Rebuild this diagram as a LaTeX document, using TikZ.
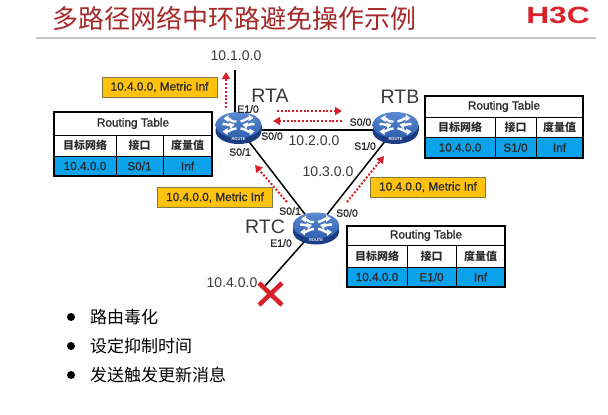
\documentclass[tikz,border=0pt]{standalone}
\usepackage{fontspec}
\setmainfont{Liberation Sans}
\newfontfamily\semi[FakeBold=1.2]{Liberation Sans}
\newfontfamily\cjk{Noto Sans CJK SC}
\usetikzlibrary{arrows.meta,calc,shapes.geometric}
\definecolor{titlered}{HTML}{A52A2A}
\definecolor{logored}{HTML}{D8232A}
\definecolor{rulegrey}{HTML}{C4C4C4}
\definecolor{ink}{HTML}{2B2B2B}
\definecolor{labelgrey}{HTML}{3A3A3A}
\definecolor{boxyellow}{HTML}{FFC20E}
\definecolor{boxedge}{HTML}{7F7A45}
\definecolor{cellblue}{HTML}{0BA3EC}
\definecolor{routertop}{HTML}{2F5FB0}
\definecolor{routerlight}{HTML}{5C8AD0}
\definecolor{routerside}{HTML}{1B3C82}
\definecolor{flowred}{HTML}{D9202A}
\newcommand{\fs}[1]{\fontsize{#1}{#1}\selectfont}
\tikzset{
  x=1pt,y=-1pt,
  link/.style={line width=1.5pt,draw=black},
  flow/.style={draw=flowred,line width=2pt,dash pattern=on 2pt off 1.8pt,
    -{Triangle[width=8pt,length=7pt,fill=flowred,sep=0pt]},shorten >=0pt},
  netlabel/.style={text=labelgrey,inner sep=0pt,font=\fs{14}},
  rtname/.style={text=labelgrey,inner sep=0pt,font=\fs{19.5}},
  portlabel/.style={text=ink,inner sep=0pt,font=\semi\fs{10.5}},
  metricbox/.style={fill=boxyellow,draw=boxedge,line width=1pt,text=ink,inner sep=0pt,
    minimum width=115pt,minimum height=20pt,font=\semi\fs{11.8}},
  routerspot/.style={shape=ellipse,minimum width=46pt,minimum height=32pt,inner sep=0pt},
  cell/.style={draw=black,line width=0.8pt,inner sep=0pt,text=ink},
  headcell/.style={cell,fill=white,font=\semi\fs{11.8}},
  colcell/.style={cell,fill=white,font=\cjk\bfseries\fs{11}},
  datacell/.style={cell,fill=cellblue,font=\semi\fs{11.8}},
  outerframe/.style={draw=black,line width=1.5pt},
  bulletdot/.style={circle,fill=black,inner sep=0pt,minimum size=8pt},
  bullettext/.style={anchor=west,inner sep=0pt,font=\cjk\fs{17},text=black},
  router/.pic={
    \fill[routerside] (0,3) ellipse[x radius=23,y radius=13];
    \fill[routerside] (-23,-3) rectangle (23,3);
    \shade[top color=routerlight,bottom color=routertop] (0,-3) ellipse[x radius=23,y radius=13];
    \begin{scope}[white,line width=2.4pt,-{Triangle[width=6.5pt,length=5pt]}]
      \draw (-2,-6.5) .. controls (-7,-5.5) and (-9,-9.5) .. (-15,-9.5);
      \draw (2,-6.5) .. controls (7,-7.5) and (9,-10) .. (15,-10);
      \draw (-2,0.5) .. controls (-7,0.5) and (-9,3.5) .. (-16,3.5);
      \draw (2,0.5) .. controls (7,0.5) and (9,4) .. (16,3.5);
      \draw (-16,-4) .. controls (-11,-4) and (-8,-2.5) .. (-4,-3.5);
      \draw (16,-4) .. controls (11,-4) and (8,-2.5) .. (4,-3.5);
    \end{scope}
    \node[text=white,inner sep=0pt,font=\bfseries\fs{4}] at (0,11.5) {ROUTE};
  }
}
% #1 name, #2 left, #3 top, #4 col1 right, #5 col2 right, #6 right, #7 row1 bottom, #8 row2 bottom, #9 bottom
\newcommand{\rtable}[9]{%
  \node[headcell,minimum width=#6-#2,minimum height=#7-#3] (#1title) at ({(#2+#6)/2},{(#3+#7)/2}) {Routing Table};
  \node[colcell,minimum width=#4-#2,minimum height=#8-#7] (#1c1) at ({(#2+#4)/2},{(#7+#8)/2}) {目标网络};
  \node[colcell,minimum width=#5-#4,minimum height=#8-#7] (#1c2) at ({(#4+#5)/2},{(#7+#8)/2}) {接口};
  \node[colcell,minimum width=#6-#5,minimum height=#8-#7] (#1c3) at ({(#5+#6)/2},{(#7+#8)/2}) {度量值};
  \node[datacell,minimum width=#4-#2,minimum height=#9-#8] (#1d1) at ({(#2+#4)/2},{(#8+#9)/2}) {10.4.0.0};
  \node[datacell,minimum width=#5-#4,minimum height=#9-#8] (#1d2) at ({(#4+#5)/2},{(#8+#9)/2}) {\rtableport};
  \node[datacell,minimum width=#6-#5,minimum height=#9-#8] (#1d3) at ({(#5+#6)/2},{(#8+#9)/2}) {Inf};
  \draw[outerframe] (#2,#3) rectangle (#6,#9);
}
\begin{document}
\begin{tikzpicture}
\useasboundingbox (0,0) rectangle (608,415);
\fill[white] (0,0) rectangle (608,415);

% header
\node[anchor=west,inner sep=0pt,text=titlered,font=\cjk\fs{26}] (title) at (52,18) {多路径网络中环路避免操作示例};
\node[inner sep=0pt,text=logored,font=\bfseries\fs{23.5},xscale=1.35] (logo) at (558,15.5) {H3C};
\coordinate (ruleL) at (36,37.5);
\coordinate (ruleR) at (596,37.5);
\draw[rulegrey,line width=2pt] (ruleL) -- (ruleR);

% routers (anchors)
\node[routerspot] (rta) at (238.5,128) {};
\node[routerspot] (rtb) at (395.5,128) {};
\node[routerspot] (rtc) at (316,228.5) {};

% free ends
\coordinate (net1) at (235,70);
\coordinate (net4) at (265,286);

% links
\draw[link] (net1) -- (235,115);
\draw[link] (rta.center) ++(0,2) -- ($(rtb.center)+(0,2)$);
\draw[link] (rta.center) -- (rtc.center);
\draw[link] (rtb.center) -- (rtc.center);
\draw[link] (rtc.center) -- (net4);

% routers
\pic at (rta) {router};
\pic at (rtb) {router};
\pic at (rtc) {router};

% red cross
\coordinate (xa) at (259,283);
\coordinate (xb) at (282,305);
\coordinate (xc) at (282,283);
\coordinate (xd) at (259,305);
\draw[flowred,line width=4.5pt] (xa) -- (xb) (xc) -- (xd);

% flows
\coordinate (f1a) at (226,108); \coordinate (f1b) at (226,72);
\coordinate (f2a) at (277,111); \coordinate (f2b) at (342,111);
\coordinate (f3a) at (342,121); \coordinate (f3b) at (273,121);
\coordinate (f4a) at (287,202); \coordinate (f4b) at (255,165);
\coordinate (f5a) at (347,202); \coordinate (f5b) at (384,156);
\draw[flow] (f1a) -- (f1b);
\draw[flow] (f2a) -- (f2b);
\draw[flow] (f3a) -- (f3b);
\draw[flow] (f4a) -- (f4b);
\draw[flow] (f5a) -- (f5b);

% labels
\node[netlabel] (n1) at (236,55.5) {10.1.0.0};
\node[netlabel] (n2) at (314,141) {10.2.0.0};
\node[netlabel] (n3) at (328,172) {10.3.0.0};
\node[netlabel] (n4) at (232,283) {10.4.0.0};
\node[rtname] (lrta) at (270,95.5) {RTA};
\node[rtname] (lrtb) at (400,97) {RTB};
\node[rtname] (lrtc) at (265,227) {RTC};
\node[portlabel] (p1) at (248,109) {E1/0};
\node[portlabel] (p2) at (272,136) {S0/0};
\node[portlabel] (p3) at (240,152) {S0/1};
\node[portlabel] (p4) at (360.5,122) {S0/0};
\node[portlabel] (p5) at (365,146) {S1/0};
\node[portlabel] (p6) at (290,211) {S0/1};
\node[portlabel] (p7) at (347,213) {S0/0};
\node[portlabel] (p8) at (281,243) {E1/0};

% metric boxes
\node[metricbox] (m1) at (159.5,87) {10.4.0.0, Metric Inf};
\node[metricbox] (m2) at (428,187) {10.4.0.0, Metric Inf};
\node[metricbox] (m3) at (215,197.5) {10.4.0.0, Metric Inf};

% tables
\def\rtableport{S0/1}
\rtable{ta}{54}{112}{116}{163}{212}{135}{156}{176}
\def\rtableport{S1/0}
\rtable{tb}{425}{96}{495}{536}{583}{117}{137}{158}
\def\rtableport{E1/0}
\rtable{tc}{347}{226}{407}{456}{505}{245}{267}{287}

% bullets
\node[bulletdot] (b1) at (71,317) {};
\node[bulletdot] (b2) at (71,346) {};
\node[bulletdot] (b3) at (71,375) {};
\node[bullettext] (t1) at (90,317) {路由毒化};
\node[bullettext] (t2) at (90,346) {设定抑制时间};
\node[bullettext] (t3) at (90,375) {发送触发更新消息};
\end{tikzpicture}
\end{document}
